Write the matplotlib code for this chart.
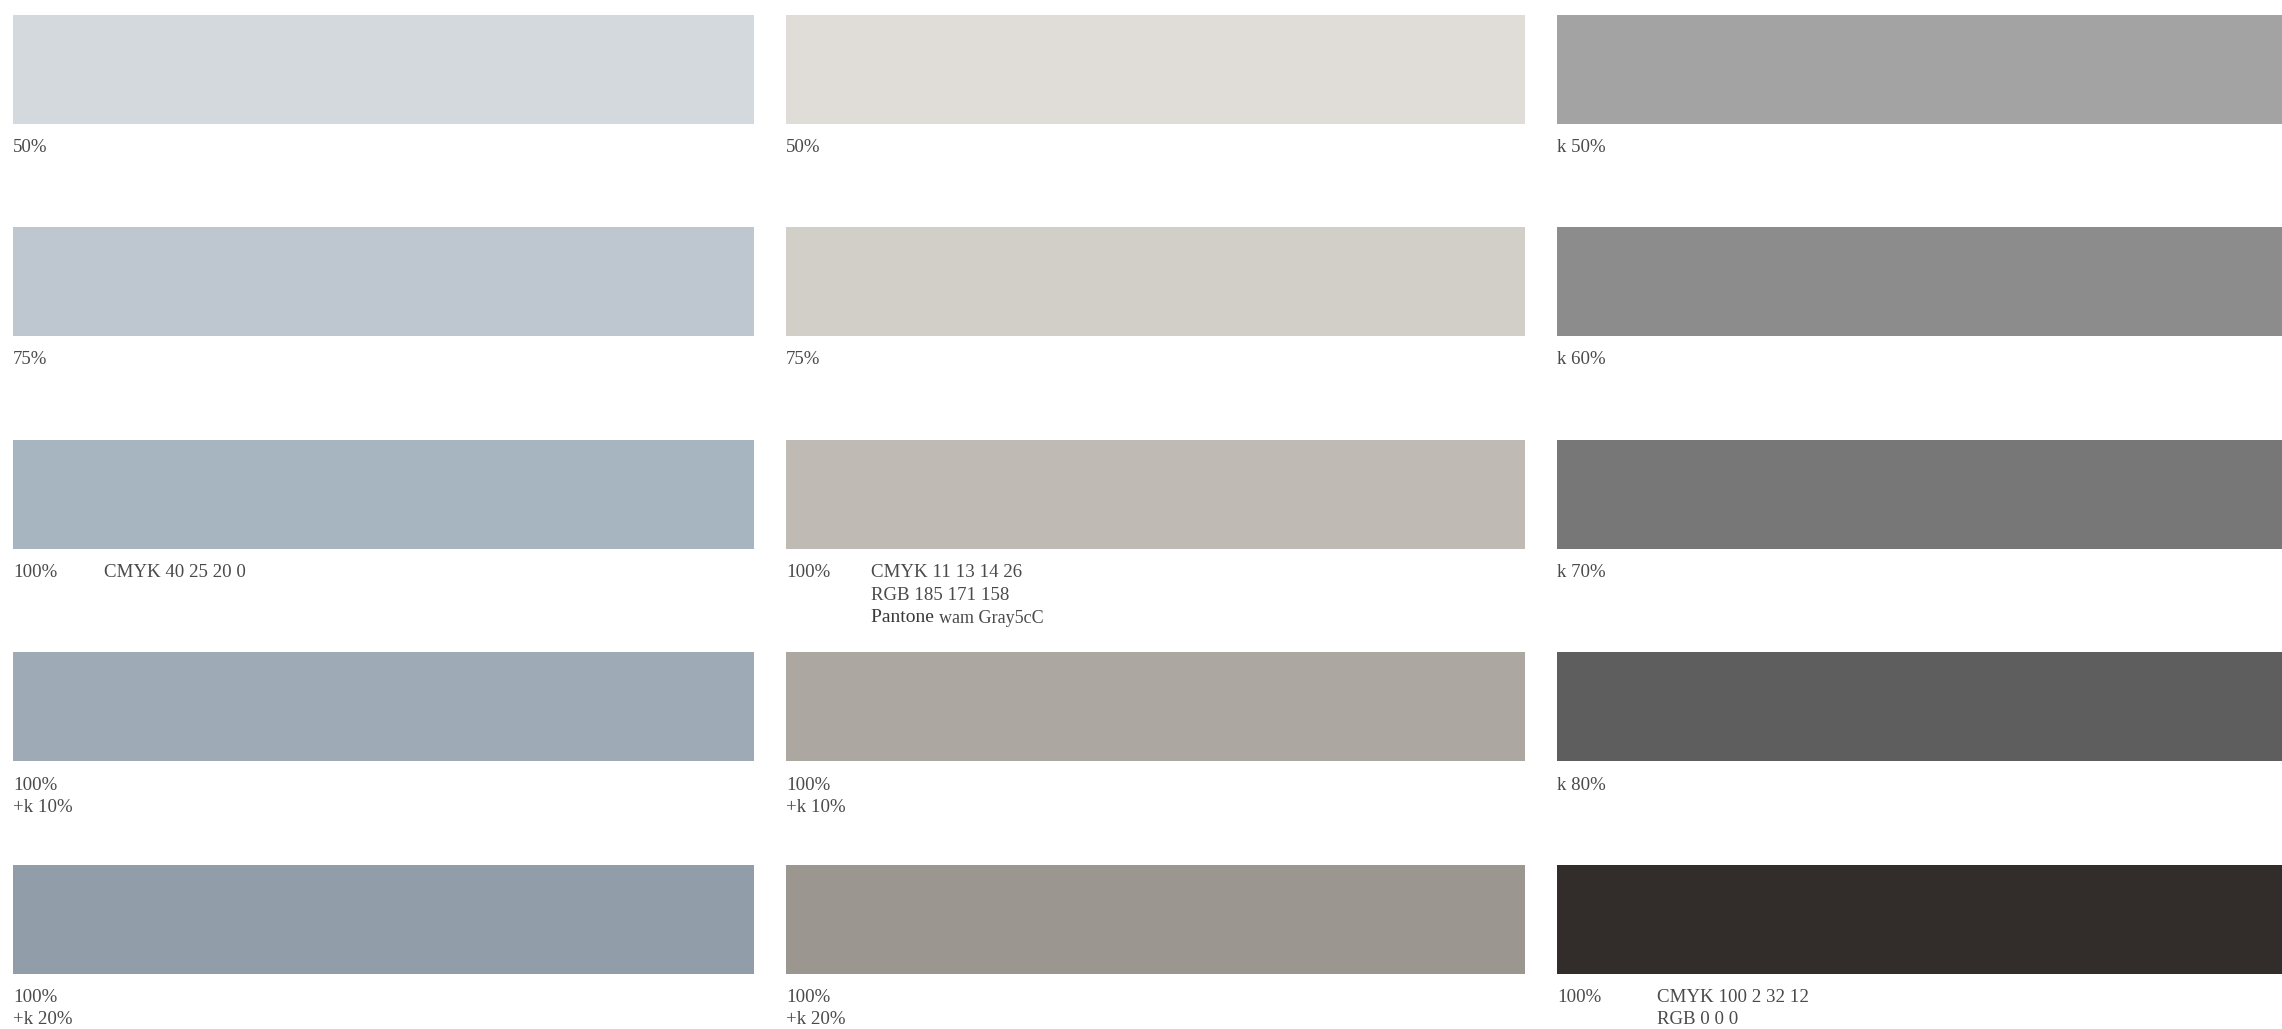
import matplotlib.pyplot as plt

# swatch colours, one list per column (top to bottom)
blue_colors = ['#d4d9de', '#bec7cf', '#a7b5c1', '#9eaab5', '#919da8']
warm_colors = ['#e0dcd8', '#d2cec8', '#bfbab4', '#aca7a1', '#9c9690']
grey_colors = ['#a3a3a3', '#8c8c8c', '#777777', '#5e5e5e', '#322d2a']

# labels under each swatch
blue_labels = [['50%'], ['75%'], ['100%'], ['100%', '+k 10%'], ['100%', '+k 20%']]
warm_labels = [['50%'], ['75%'], ['100%'], ['100%', '+k 10%'], ['100%', '+k 20%']]
grey_labels = [['k 50%'], ['k 60%'], ['k 70%'], ['k 80%'], ['100%']]

# colour specs next to the "100%" label: (column, row, lines)
specs = [
    (0, 2, ['CMYK 40 25 20 0']),
    (1, 2, ['CMYK 11 13 14 26', 'RGB 185 171 158']),
    (2, 4, ['CMYK 100 2 32 12', 'RGB 0 0 0']),
]

W, H = 2282, 1029
col_left = [13, 786, 1557]
col_width = [741, 739, 760]
spec_x = [104, 871, 1657]
row_top = [14.5, 227, 439.5, 652, 864.5]
sw_h = 109
line_h = 22.5
txt_off = 24
txt_col = '#4a4a4a'
font = ['Liberation Serif', 'DejaVu Serif']

fig = plt.figure(figsize=(W / 100, H / 100), dpi=100)
ax = fig.add_axes([0, 0, 1, 1])
ax.set_xlim(0, W)
ax.set_ylim(H, 0)
ax.axis('off')

columns = [(blue_colors, blue_labels), (warm_colors, warm_labels), (grey_colors, grey_labels)]
for c, (colors, labels) in enumerate(columns):
    ax.barh([t + sw_h / 2 for t in row_top], col_width[c], height=sw_h,
            left=col_left[c], color=colors, edgecolor='none')
    for r, lines in enumerate(labels):
        for i, s in enumerate(lines):
            ax.text(col_left[c], row_top[r] + sw_h + txt_off + i * line_h, s,
                    fontsize=13.6, color=txt_col, family=font, va='center', ha='left')

for c, r, lines in specs:
    for i, s in enumerate(lines):
        ax.text(spec_x[c], row_top[r] + sw_h + txt_off + i * line_h, s,
                fontsize=13.6, color=txt_col, family=font, va='center', ha='left')

# Pantone line under the warm grey specs
y_p = row_top[2] + sw_h + txt_off + 2 * line_h
t = ax.text(spec_x[1], y_p, 'Pantone ', fontsize=14, color='#3a3a3a',
            family=font, va='center', ha='left')
fig.canvas.draw()
bb = t.get_window_extent()
x_end = ax.transData.inverted().transform((bb.x1, 0))[0]
ax.text(x_end, y_p + 1, 'wam Gray5cC', fontsize=13, color=txt_col,
        family=font, va='center', ha='left')

fig.savefig('out.png', dpi=100)
